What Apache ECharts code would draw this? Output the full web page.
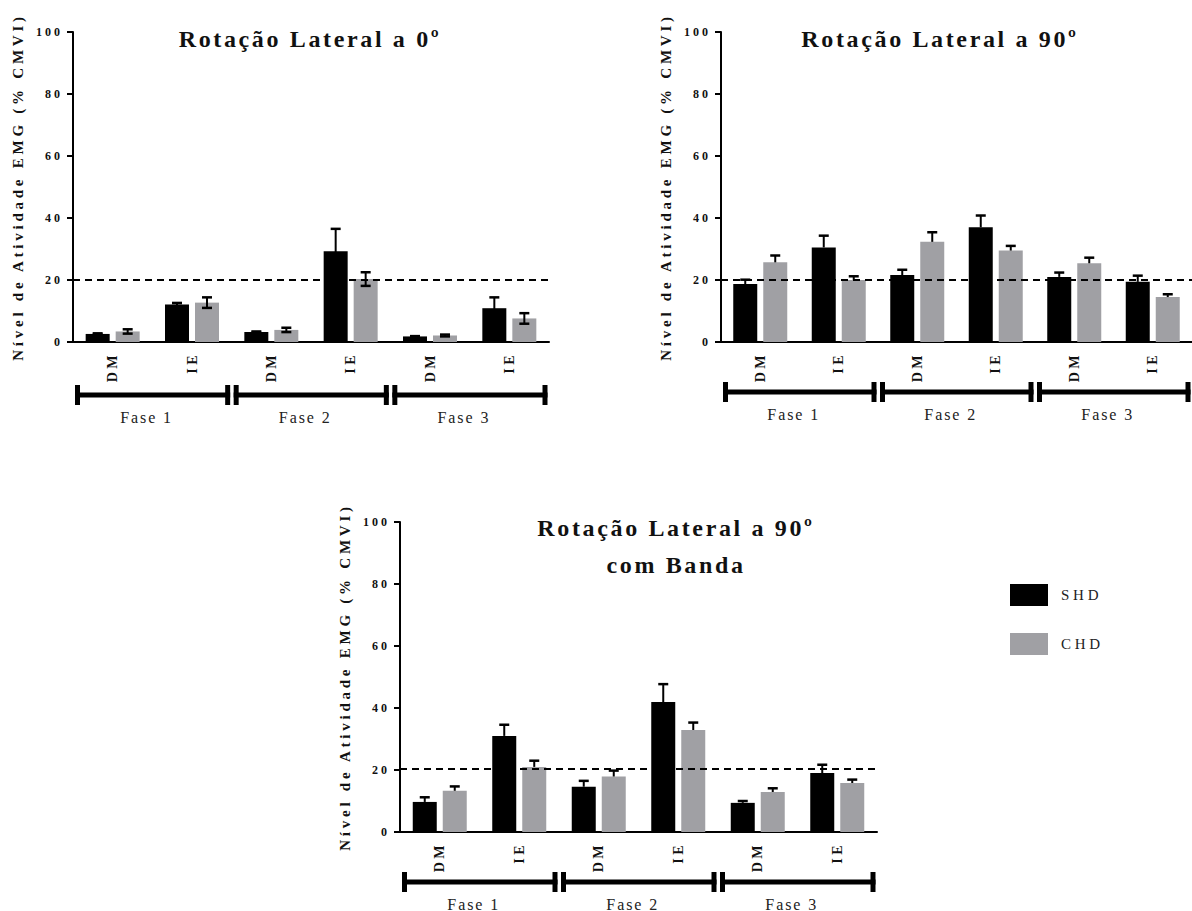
<!DOCTYPE html>
<html>
<head>
<meta charset="utf-8">
<script src="https://cdn.jsdelivr.net/npm/echarts@6/dist/echarts.min.js"></script>
<style>
  html, body { margin: 0; padding: 0; background: #fff; }
  #chart { width: 1192px; height: 911px; }
  #chart svg text { letter-spacing: 0.25em; }
  #chart svg text[style*="24px"] { letter-spacing: 0.11em; }
  #chart svg text[style*="16px"] { letter-spacing: 0.12em; }
</style>
</head>
<body>
<div id="chart"></div>
<script>
// ---------- data ----------
const categories = ['DM', 'IE', 'DM', 'IE', 'DM', 'IE'];
const phaseLabels = ['Fase 1', 'Fase 2', 'Fase 3'];
const phaseSpans = [[0, 2], [2, 4], [4, 6]];
const seriesNames = ['SHD', 'CHD'];
const yTicks = [0, 20, 40, 60, 80, 100];

const titles = ['Rotação Lateral a 0º', 'Rotação Lateral a 90º', 'Rotação Lateral a 90º\ncom Banda'];
const yAxisName = 'Nível de Atividade EMG (% CMVI)';

// Panel 1: Rotação Lateral a 0º
const p1_shd = [2.6, 12.1, 3.2, 29.3, 1.8, 10.9];
const p1_shd_err = [0.2, 0.5, 0.2, 7.2, 0.1, 3.5];
const p1_chd = [3.4, 12.7, 3.9, 20.3, 2.1, 7.6];
const p1_chd_err = [0.7, 1.7, 0.7, 2.2, 0.3, 1.7];
const p1_ref = 20;

// Panel 2: Rotação Lateral a 90º
const p2_shd = [18.7, 30.5, 21.6, 37.0, 21.0, 19.4];
const p2_shd_err = [1.4, 3.8, 1.7, 3.8, 1.4, 2.0];
const p2_chd = [25.7, 20.0, 32.3, 29.5, 25.4, 14.5];
const p2_chd_err = [2.2, 1.2, 3.1, 1.5, 1.8, 0.9];
const p2_ref = 20;

// Panel 3: Rotação Lateral a 90º com Banda
const p3_shd = [9.7, 31.0, 14.6, 41.9, 9.4, 19.0];
const p3_shd_err = [1.5, 3.6, 1.9, 5.8, 0.6, 2.7];
const p3_chd = [13.3, 21.0, 17.9, 32.9, 12.9, 15.8];
const p3_chd_err = [1.4, 2.0, 1.9, 2.4, 1.2, 1.1];
const p3_ref = 20.5;

// ---------- styling / layout ----------
const SERIF = "'Liberation Serif', 'DejaVu Serif', serif";
const BLACK = '#000000';
const GRAY = '#a0a0a4';
const BAR_W = 24, BAR_GAP_PX = 6;

const panels = [
  { shd: p1_shd, shdErr: p1_shd_err, chd: p1_chd, chdErr: p1_chd_err, ref: p1_ref, both: true,
    grid: { left: 73, top: 32, width: 476, height: 310 }, phaseY: 395, title: { x: 305, y: 15 } },
  { shd: p2_shd, shdErr: p2_shd_err, chd: p2_chd, chdErr: p2_chd_err, ref: p2_ref, both: false,
    grid: { left: 721, top: 32, width: 477, height: 310 }, phaseY: 392, title: { x: 935, y: 15 } },
  { shd: p3_shd, shdErr: p3_shd_err, chd: p3_chd, chdErr: p3_chd_err, ref: p3_ref, both: false,
    grid: { left: 400, top: 522, width: 477, height: 310 }, phaseY: 882, title: { x: 671, y: 504 } }
];

const grids = [], xAxes = [], yAxes = [], series = [], titleOpts = [];

function errRenderer(sign, both) {
  return function (params, api) {
    const x = api.value(0), v = api.value(1), e = api.value(2);
    const base = api.coord([x, v]);
    const top = api.coord([x, v + e]);
    const bot = api.coord([x, both ? Math.max(0, v - e) : v]);
    const cx = base[0] + sign * (BAR_W + BAR_GAP_PX) / 2;
    const hw = 5;
    const children = [
      { type: 'line', shape: { x1: cx, y1: top[1], x2: cx, y2: bot[1] }, style: { stroke: BLACK, lineWidth: 2 } },
      { type: 'line', shape: { x1: cx - hw, y1: top[1], x2: cx + hw, y2: top[1] }, style: { stroke: BLACK, lineWidth: 2.5 } }
    ];
    if (both) {
      children.push({ type: 'line', shape: { x1: cx - hw, y1: bot[1], x2: cx + hw, y2: bot[1] }, style: { stroke: BLACK, lineWidth: 2.5 } });
    }
    return { type: 'group', children: children };
  };
}

function phaseRenderer(params, api) {
  const a = api.coord([api.value(0), 0.5]);
  const b = api.coord([api.value(1), 0.5]);
  const x1 = a[0] + 2, x2 = b[0] - 1.5, y = a[1];
  return {
    type: 'group',
    children: [
      { type: 'rect', shape: { x: x1, y: y - 2.5, width: x2 - x1, height: 5 }, style: { fill: BLACK } },
      { type: 'rect', shape: { x: x1, y: y - 10, width: 5, height: 20 }, style: { fill: BLACK } },
      { type: 'rect', shape: { x: x2 - 5, y: y - 10, width: 5, height: 20 }, style: { fill: BLACK } },
      { type: 'text', x: (x1 + x2) / 2 - 6, y: y + 22,
        style: { text: phaseLabels[params.dataIndex], textAlign: 'center', textVerticalAlign: 'middle',
                 font: '16px ' + SERIF, fill: '#222' } }
    ]
  };
}

panels.forEach(function (p, i) {
  const gi = grids.length;
  grids.push({ left: p.grid.left, top: p.grid.top, width: p.grid.width, height: p.grid.height, containLabel: false });
  xAxes.push({
    gridIndex: gi, type: 'category', data: categories, boundaryGap: true,
    axisLine: { lineStyle: { color: BLACK, width: 2 } },
    axisTick: { alignWithLabel: true, length: 6, lineStyle: { color: BLACK, width: 2 } },
    axisLabel: { interval: 0, rotate: 90, margin: 10, color: '#111', fontFamily: SERIF, fontWeight: 'bold', fontSize: 14 },
    splitLine: { show: false }
  });
  yAxes.push({
    gridIndex: gi, type: 'value', min: yTicks[0], max: yTicks[yTicks.length - 1], interval: yTicks[1] - yTicks[0],
    name: yAxisName, nameLocation: 'middle', nameGap: 48,
    nameTextStyle: { color: '#111', fontFamily: SERIF, fontWeight: 'bold', fontSize: 15 },
    axisLine: { show: true, lineStyle: { color: BLACK, width: 2 } },
    axisTick: { show: true, length: 6, lineStyle: { color: BLACK, width: 2 } },
    axisLabel: { margin: 10, color: '#111', fontFamily: SERIF, fontWeight: 'bold', fontSize: 12 },
    splitLine: { show: false }
  });
  series.push({
    name: seriesNames[0], type: 'bar', xAxisIndex: gi, yAxisIndex: gi, data: p.shd,
    barWidth: BAR_W, barGap: (BAR_GAP_PX / BAR_W * 100) + '%',
    itemStyle: { color: BLACK }, z: 2,
    markLine: { silent: true, symbol: 'none', label: { show: false },
      lineStyle: { type: [7, 5], color: BLACK, width: 2 }, data: [{ yAxis: p.ref }] }
  });
  series.push({
    name: seriesNames[1], type: 'bar', xAxisIndex: gi, yAxisIndex: gi, data: p.chd,
    barWidth: BAR_W, barGap: (BAR_GAP_PX / BAR_W * 100) + '%',
    itemStyle: { color: GRAY }, z: 2
  });
  series.push({
    type: 'custom', xAxisIndex: gi, yAxisIndex: gi, z: 5, silent: true,
    data: p.shd.map(function (v, k) { return [k, v, p.shdErr[k]]; }),
    renderItem: errRenderer(-1, p.both)
  });
  series.push({
    type: 'custom', xAxisIndex: gi, yAxisIndex: gi, z: 5, silent: true,
    data: p.chd.map(function (v, k) { return [k, v, p.chdErr[k]]; }),
    renderItem: errRenderer(1, p.both)
  });
  titleOpts.push({
    text: titles[i], left: p.title.x, top: p.title.y, textAlign: 'center',
    textStyle: { fontFamily: SERIF, fontWeight: 'bold', fontSize: 24, color: '#111', lineHeight: 37 }
  });
});

// phase rows
panels.forEach(function (p) {
  const gi = grids.length;
  grids.push({ left: p.grid.left, top: p.phaseY - 10, width: p.grid.width, height: 20 });
  xAxes.push({ gridIndex: gi, type: 'value', min: 0, max: categories.length, show: false });
  yAxes.push({ gridIndex: gi, type: 'value', min: 0, max: 1, show: false });
  series.push({
    type: 'custom', xAxisIndex: gi, yAxisIndex: gi, silent: true, clip: false,
    data: phaseSpans.map(function (s) { return [s[0], s[1]]; }),
    renderItem: phaseRenderer
  });
});

const chart = echarts.init(document.getElementById('chart'), null, { renderer: 'svg' });
chart.setOption({
  backgroundColor: '#ffffff',
  animation: false,
  title: titleOpts,
  legend: {
    data: seriesNames, orient: 'vertical', left: 1005, top: 579,
    itemWidth: 38, itemHeight: 22, itemGap: 27, icon: 'rect',
    textStyle: { fontFamily: SERIF, fontSize: 15, color: '#222', padding: [0, 0, 0, 8] },
    selectedMode: false
  },
  grid: grids,
  xAxis: xAxes,
  yAxis: yAxes,
  series: series
});
</script>
</body>
</html>
